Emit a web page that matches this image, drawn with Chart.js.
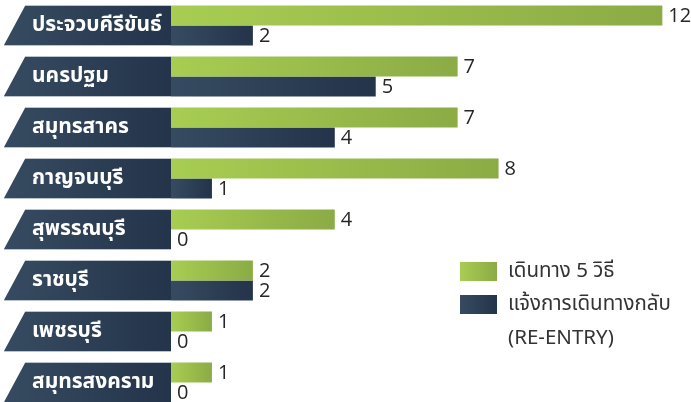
<!DOCTYPE html>
<html>
<head>
<meta charset="utf-8">
<script src="https://cdn.jsdelivr.net/npm/chart.js@4/dist/chart.umd.min.js"></script>
<style>
html,body{margin:0;padding:0;background:#ffffff;overflow:hidden;width:691px;height:402px;}
canvas{display:block;}
</style>
</head>
<body>
<canvas id="c" width="691" height="408"></canvas>
<script>
const categories = ["ประจวบคีรีขันธ์","นครปฐม","สมุทรสาคร","กาญจนบุรี","สุพรรณบุรี","ราชบุรี","เพชรบุรี","สมุทรสงคราม"];
const travelValues = [12,7,7,8,4,2,1,1];
const reentryValues = [2,5,4,1,0,2,0,0];
const seriesNames = ["เดินทาง 5 วิธี", "แจ้งการเดินทางกลับ\n(RE-ENTRY)"];

const THAI_FONT = '"Noto Sans Thai","Noto Sans Thai UI","Noto Sans","Loma","Garuda",sans-serif';
const GREEN = ['#a8cd52', '#8bab45'];
const NAVY = ['#364b61', '#24344a'];

function barGradient(colors) {
  return function(ctx) {
    const chart = ctx.chart;
    if (!chart.chartArea || ctx.type !== 'data') return colors[0];
    const xs = chart.scales.x;
    const x0 = xs.getPixelForValue(0);
    const x1 = xs.getPixelForValue(ctx.raw || 0);
    if (x1 - x0 < 1) return colors[0];
    const g = chart.ctx.createLinearGradient(x0, 0, x1, 0);
    g.addColorStop(0, colors[0]);
    g.addColorStop(1, colors[1]);
    return g;
  };
}

const decorPlugin = {
  id: 'decor',
  afterDatasetsDraw(chart) {
    const ctx = chart.ctx;
    const ys = chart.scales.y;
    const left = chart.chartArea.left;
    ctx.save();
    categories.forEach((name, i) => {
      const cy = ys.getPixelForValue(i);
      const top = cy - 19.5, bot = cy + 19.5;
      const g = ctx.createLinearGradient(4, 0, left, 0);
      g.addColorStop(0, NAVY[0]);
      g.addColorStop(1, NAVY[1]);
      ctx.beginPath();
      ctx.moveTo(25, top);
      ctx.lineTo(left, top);
      ctx.lineTo(left, bot);
      ctx.lineTo(4, bot);
      ctx.closePath();
      ctx.fillStyle = g;
      ctx.fill();
      ctx.strokeStyle = 'rgba(170,180,192,0.8)';
      ctx.lineWidth = 1;
      ctx.beginPath();
      ctx.moveTo(25, top - 0.5); ctx.lineTo(left, top - 0.5);
      ctx.moveTo(4, bot + 0.5); ctx.lineTo(left, bot + 0.5);
      ctx.stroke();
      ctx.fillStyle = '#ffffff';
      ctx.font = 'bold 21px ' + THAI_FONT;
      ctx.textBaseline = 'middle';
      ctx.textAlign = 'left';
      ctx.fillText(name, 32, cy + 1);
    });
    ctx.fillStyle = '#262626';
    ctx.font = '20px "Open Sans","Noto Sans",sans-serif';
    ctx.textBaseline = 'middle';
    ctx.textAlign = 'left';
    chart.data.datasets.forEach((ds, di) => {
      const meta = chart.getDatasetMeta(di);
      meta.data.forEach((el, i) => {
        ctx.fillText(String(ds.data[i]), el.x + 6, el.y + 1);
      });
    });
    const items = [
      {colors: GREEN, label: seriesNames[0], y: 262},
      {colors: NAVY, label: seriesNames[1], y: 295}
    ];
    ctx.font = '20.5px ' + THAI_FONT;
    items.forEach(it => {
      const g = ctx.createLinearGradient(460, 0, 497, 0);
      g.addColorStop(0, it.colors[0]);
      g.addColorStop(1, it.colors[1]);
      ctx.fillStyle = g;
      ctx.fillRect(460, it.y, 37, 19);
      ctx.fillStyle = '#333333';
      it.label.split('\n').forEach((line, li) => {
        ctx.fillText(line, 508, it.y + 11 + li * 34);
      });
    });
    ctx.restore();
  }
};

new Chart(document.getElementById('c'), {
  type: 'bar',
  data: {
    labels: categories,
    datasets: [
      {label: seriesNames[0], data: travelValues, backgroundColor: barGradient(GREEN), borderWidth: 0},
      {label: seriesNames[1], data: reentryValues, backgroundColor: barGradient(NAVY), borderWidth: 0}
    ]
  },
  options: {
    indexAxis: 'y',
    responsive: false,
    animation: false,
    layout: {padding: 0},
    categoryPercentage: 0.78,
    barPercentage: 1,
    plugins: {legend: {display: false}, tooltip: {enabled: false}},
    scales: {
      x: {display: false, min: 0, max: 12.7},
      y: {
        display: true,
        grid: {display: false},
        border: {display: false},
        ticks: {display: false},
        afterFit(s) { s.width = 171; }
      }
    }
  },
  plugins: [decorPlugin]
});
</script>
</body>
</html>
